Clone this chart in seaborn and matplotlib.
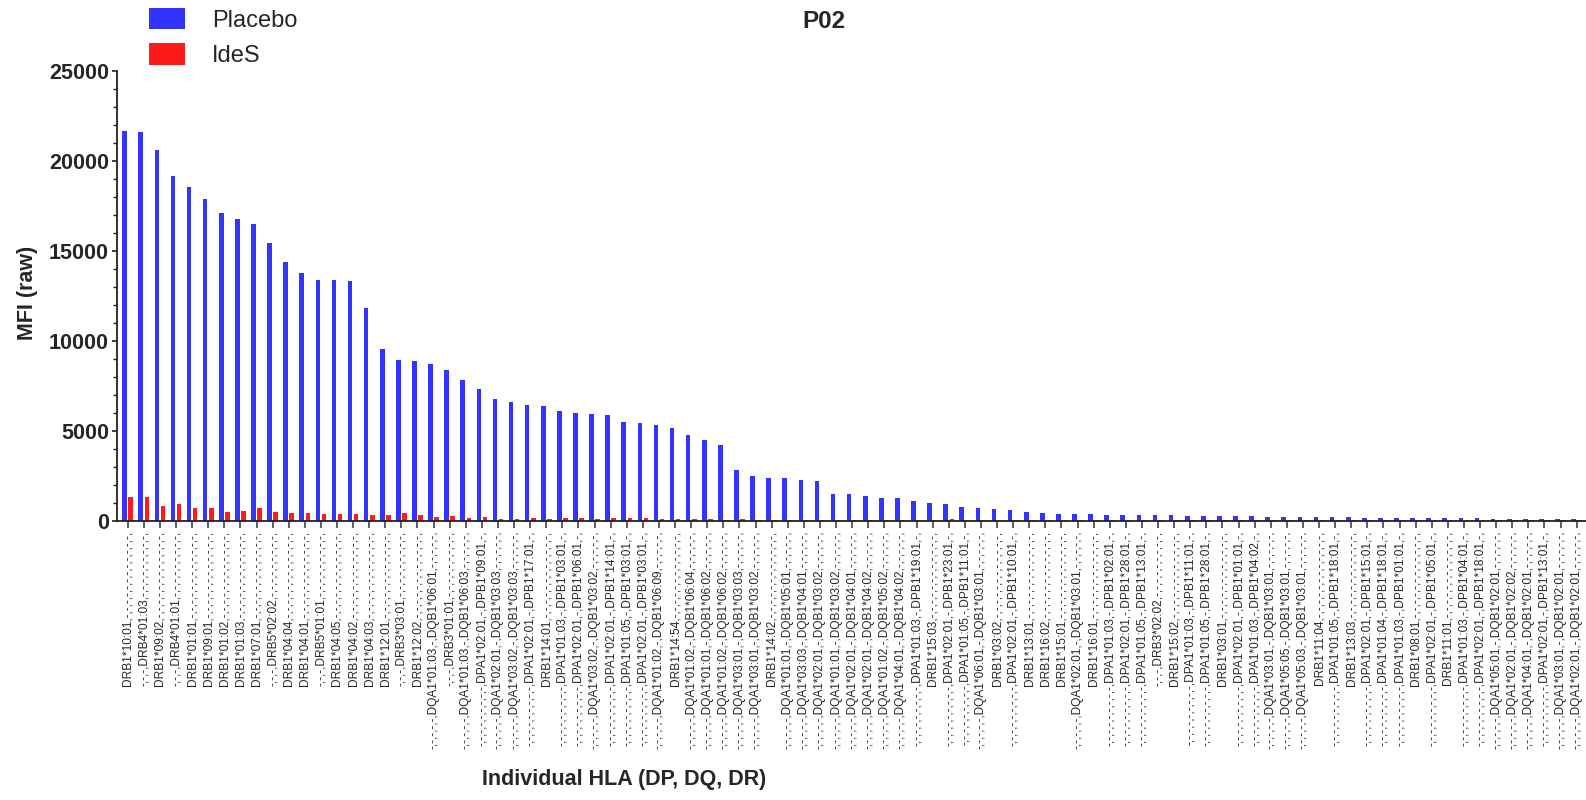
import matplotlib
matplotlib.use("Agg")
import matplotlib.pyplot as plt
from matplotlib.patches import Patch
from matplotlib.ticker import MultipleLocator
import numpy as np
import pandas as pd
import seaborn as sns

# HLA specificities (beads), ordered by placebo MFI
alleles = [
    ["DRB1*10:01"], ["DRB4*01:03"], ["DRB1*09:02"], ["DRB4*01:01"], ["DRB1*01:01"],
    ["DRB1*09:01"], ["DRB1*01:02"], ["DRB1*01:03"], ["DRB1*07:01"], ["DRB5*02:02"],
    ["DRB1*04:04"], ["DRB1*04:01"], ["DRB5*01:01"], ["DRB1*04:05"], ["DRB1*04:02"],
    ["DRB1*04:03"], ["DRB1*12:01"], ["DRB3*03:01"], ["DRB1*12:02"], ["DQA1*01:03", "DQB1*06:01"],
    ["DRB3*01:01"], ["DQA1*01:03", "DQB1*06:03"], ["DPA1*02:01", "DPB1*09:01"], ["DQA1*02:01", "DQB1*03:03"], ["DQA1*03:02", "DQB1*03:03"],
    ["DPA1*02:01", "DPB1*17:01"], ["DRB1*14:01"], ["DPA1*01:03", "DPB1*03:01"], ["DPA1*02:01", "DPB1*06:01"], ["DQA1*03:02", "DQB1*03:02"],
    ["DPA1*02:01", "DPB1*14:01"], ["DPA1*01:05", "DPB1*03:01"], ["DPA1*02:01", "DPB1*03:01"], ["DQA1*01:02", "DQB1*06:09"], ["DRB1*14:54"],
    ["DQA1*01:02", "DQB1*06:04"], ["DQA1*01:01", "DQB1*06:02"], ["DQA1*01:02", "DQB1*06:02"], ["DQA1*03:01", "DQB1*03:03"], ["DQA1*03:01", "DQB1*03:02"],
    ["DRB1*14:02"], ["DQA1*01:01", "DQB1*05:01"], ["DQA1*03:03", "DQB1*04:01"], ["DQA1*02:01", "DQB1*03:02"], ["DQA1*01:01", "DQB1*03:02"],
    ["DQA1*02:01", "DQB1*04:01"], ["DQA1*02:01", "DQB1*04:02"], ["DQA1*01:02", "DQB1*05:02"], ["DQA1*04:01", "DQB1*04:02"], ["DPA1*01:03", "DPB1*19:01"],
    ["DRB1*15:03"], ["DPA1*02:01", "DPB1*23:01"], ["DPA1*01:05", "DPB1*11:01"], ["DQA1*06:01", "DQB1*03:01"], ["DRB1*03:02"],
    ["DPA1*02:01", "DPB1*10:01"], ["DRB1*13:01"], ["DRB1*16:02"], ["DRB1*15:01"], ["DQA1*02:01", "DQB1*03:01"],
    ["DRB1*16:01"], ["DPA1*01:03", "DPB1*02:01"], ["DPA1*02:01", "DPB1*28:01"], ["DPA1*01:05", "DPB1*13:01"], ["DRB3*02:02"],
    ["DRB1*15:02"], ["DPA1*01:03", "DPB1*11:01"], ["DPA1*01:05", "DPB1*28:01"], ["DRB1*03:01"], ["DPA1*02:01", "DPB1*01:01"],
    ["DPA1*01:03", "DPB1*04:02"], ["DQA1*03:01", "DQB1*03:01"], ["DQA1*05:05", "DQB1*03:01"], ["DQA1*05:03", "DQB1*03:01"], ["DRB1*11:04"],
    ["DPA1*01:05", "DPB1*18:01"], ["DRB1*13:03"], ["DPA1*02:01", "DPB1*15:01"], ["DPA1*01:04", "DPB1*18:01"], ["DPA1*01:03", "DPB1*01:01"],
    ["DRB1*08:01"], ["DPA1*02:01", "DPB1*05:01"], ["DRB1*11:01"], ["DPA1*01:03", "DPB1*04:01"], ["DPA1*02:01", "DPB1*18:01"],
    ["DQA1*05:01", "DQB1*02:01"], ["DQA1*02:01", "DQB1*02:02"], ["DQA1*04:01", "DQB1*02:01"], ["DPA1*02:01", "DPB1*13:01"], ["DQA1*03:01", "DQB1*02:01"],
    ["DQA1*02:01", "DQB1*02:01"],
]

placebo = [
    21650, 21600, 20600, 19150, 18550, 17850, 17100, 16750, 16500, 15450,
    14400, 13750, 13400, 13350, 13300, 11800, 9550, 8950, 8850, 8700,
    8400, 7800, 7300, 6750, 6600, 6450, 6400, 6100, 6000, 5950,
    5850, 5500, 5450, 5300, 5150, 4750, 4500, 4200, 2800, 2500,
    2350, 2350, 2250, 2200, 1500, 1500, 1350, 1250, 1250, 1100,
    1000, 950, 750, 700, 650, 600, 500, 450, 400, 350,
    350, 330, 320, 310, 300, 290, 280, 270, 260, 250,
    240, 230, 220, 210, 200, 190, 180, 175, 170, 160,
    155, 150, 140, 135, 130, 120, 110, 100, 90, 80, 70,
]

ides = [
    1330, 1330, 800, 950, 700, 700, 480, 540, 700, 480,
    430, 420, 380, 380, 360, 320, 320, 430, 300, 200,
    260, 160, 180, 120, 100, 140, 100, 140, 130, 110,
    130, 150, 140, 80, 90, 90, 70, 60, 70, 40,
    60, 50, 40, 40, 30, 30, 30, 30, 30, 40,
    40, 80, 40, 40, 30, 30, 20, 20, 20, 30,
    20, 20, 20, 20, 20, 20, 20, 20, 20, 20,
    20, 20, 20, 20, 20, 20, 20, 20, 20, 20,
    20, 20, 20, 20, 20, 20, 20, 20, 20, 20, 20,
]

groups = ["Placebo", "IdeS"]
colors = {"Placebo": "#3333FF", "IdeS": "#FF1A1A"}
y_ticks = [0, 5000, 10000, 15000, 20000, 25000]

# Bead labels use fixed locus slots separated by commas, "-" for an empty slot
slot_of = {"DRB1": 0, "DRB3": 3, "DRB4": 3, "DRB5": 3,
           "DQA1": 5, "DQB1": 7, "DPA1": 9, "DPB1": 11}


def bead_label(names, n_slots=13):
    fields = ["-"] * n_slots
    for name in names:
        fields[slot_of[name.split("*")[0]]] = name
    return ",".join(fields) + ","


tick_labels = [bead_label(a) for a in alleles]
n = len(tick_labels)

df = pd.DataFrame({
    "bead": tick_labels * 2,
    "group": ["Placebo"] * n + ["IdeS"] * n,
    "mfi": placebo + ides,
})

sns.set_theme(style="ticks")
plt.rcParams["font.family"] = ["Liberation Sans", "DejaVu Sans"]

W, H = 1586, 800
fig = plt.figure(figsize=(W / 100, H / 100), dpi=100)
ax = fig.add_axes([117 / W, 1 - 520.7 / H, 1 - 117 / W, 450 / H])

sns.barplot(data=df, x="bead", y="mfi", hue="group", order=tick_labels,
            hue_order=groups, palette=colors, width=0.76, gap=0.24,
            saturation=1, linewidth=0, errorbar=None, legend=False, ax=ax)

ax.set_xlim(-0.665, n - 1 + 0.58)
ax.set_ylim(0, 25000)
ax.set_yticks(y_ticks)
ax.set_yticklabels([str(t) for t in y_ticks], fontsize=15.5, fontweight="bold")
ax.yaxis.set_minor_locator(MultipleLocator(1000))
ax.set_xticks(range(n))
ax.set_xticklabels(tick_labels, rotation=90, fontsize=8.6)
ax.tick_params(axis="x", length=5, width=1.2, color="#444444", pad=2)
ax.tick_params(axis="y", which="major", length=3.8, width=1.2, color="#222222", pad=2)
ax.tick_params(axis="y", which="minor", length=2.6, width=1.0, color="#222222")
for s in ("left", "bottom"):
    ax.spines[s].set_linewidth(1.3)
    ax.spines[s].set_color("#222222")
sns.despine(ax=ax)

ax.set_ylabel("MFI (raw)", fontsize=15.5, fontweight="bold", va="center")
ax.yaxis.set_label_coords((27 - 117) / (W - 117), (520.7 - 293) / 450)
ax.set_xlabel("Individual HLA (DP, DQ, DR)", fontsize=15.5, fontweight="bold", va="center")
ax.xaxis.set_label_coords((624 - 117) / (W - 117), (520.7 - 779) / 450)

fig.text(824 / W, 1 - 22 / H, "P02", ha="center", va="center",
         fontsize=17.5, fontweight="bold")

handles = [Patch(facecolor=colors[g], edgecolor="none") for g in groups]
fig.legend(handles, groups, loc="upper left", bbox_to_anchor=(149 / W, 1 - 8 / H),
           frameon=False, fontsize=17, handlelength=1.53, handleheight=1.0,
           handletextpad=1.15, labelspacing=0.5, borderpad=0, borderaxespad=0)

fig.savefig("out.png", dpi=100)
